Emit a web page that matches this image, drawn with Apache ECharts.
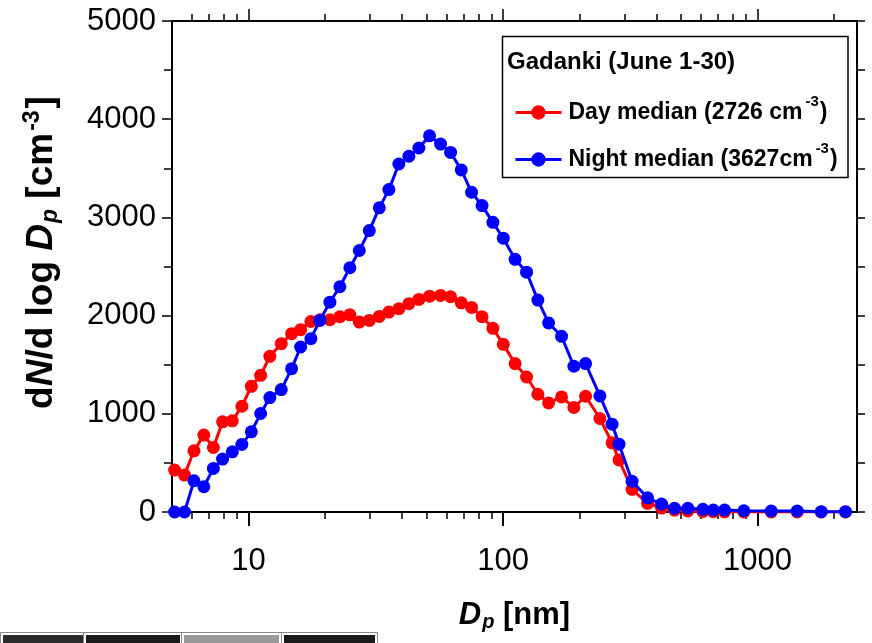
<!DOCTYPE html>
<html>
<head>
<meta charset="utf-8">
<script src="https://cdn.jsdelivr.net/npm/echarts@6/dist/echarts.min.js"></script>
<style>html,body{margin:0;padding:0;background:#fff}#c{width:872px;height:643px}</style>
</head>
<body>
<div id="c"></div>
<script>
// Particle diameter bins (nm)
const diameters = [5.12, 5.60, 6.10, 6.67, 7.27, 7.90, 8.63, 9.41, 10.25, 11.15,
  12.12, 13.44, 14.76, 16.01, 17.57, 19.06, 20.87, 22.84, 25.00, 27.23,
  29.81, 32.63, 35.59, 38.96, 42.65, 46.69, 51.42, 56.81, 62.20, 68.52,
  75.20, 82.7, 91.2, 100.2, 111.5, 123.7, 137.0, 151.0, 169.8, 189.8,
  211.0, 240.2, 268.1, 285.6, 321.3, 369.7, 419.6, 472.0, 532.3, 609.8,
  669.9, 741.9, 883.5, 1132, 1432, 1780, 2217];
// Day median dN/dlogDp (cm^-3)
const dayMedian = [427, 376, 623, 783, 657, 918, 928, 1077, 1280, 1392,
  1585, 1714, 1816, 1857, 1940, 1958, 1958, 1988, 2008, 1934,
  1951, 1992, 2036, 2070, 2121, 2165, 2198, 2205, 2192, 2130,
  2083, 1988, 1870, 1707, 1511, 1375, 1199, 1111, 1172, 1064,
  1179, 952, 704, 530, 231, 88, 40, 20, 10, 5,
  3, 2, 1, 0, 0, 0, 0];
// Night median dN/dlogDp (cm^-3)
const nightMedian = [0, 0, 318, 257, 444, 539, 613, 688, 816, 1003,
  1165, 1247, 1460, 1680, 1765, 1951, 2137, 2294, 2487, 2663,
  2866, 3097, 3283, 3544, 3623, 3707, 3831, 3747, 3662, 3483,
  3256, 3120, 2950, 2788, 2573, 2442, 2158, 1925, 1789, 1484,
  1511, 1182, 894, 691, 313, 144, 81, 38, 38, 27,
  20, 20, 13, 10, 10, 3, 3];
const seriesNames = ['Day median', 'Night median'];
const legendLabels = {'Day median': ['Day median (2726 cm', '-3', ')'],
                      'Night median': ['Night median (3627cm', '-3', ')']};
const legendTitle = 'Gadanki (June 1-30)';
const xMajorTicks = [10, 100, 1000];
const xMinorTicks = [6, 7, 8, 9, 20, 30, 40, 50, 60, 70, 80, 90, 200, 300, 400, 500, 600, 700, 800, 900, 2000];
const xLabels = [10, 100, 1000];

const SANS = '"Liberation Sans", Arial, sans-serif';
const X_MIN = 5, X_MAX = 2460;

const chart = echarts.init(document.getElementById('c'), null, {renderer: 'canvas'});

function pairs(xs, ys) { return xs.map((x, i) => [x, ys[i]]); }

function xAx(opts) {
  return Object.assign({
    type: 'log', logBase: 10, min: X_MIN, max: X_MAX, gridIndex: 0,
    splitLine: {show: false}, minorTick: {show: false}, minorSplitLine: {show: false}
  }, opts);
}

const option = {
  backgroundColor: '#fff',
  animation: false,
  grid: {left: 172, right: 15, top: 21, bottom: 131, containLabel: false},
  xAxis: [
    xAx({position: 'bottom',
      axisLine: {show: true, lineStyle: {color: '#000', width: 2}},
      axisTick: {show: true, inside: false, length: 14, lineStyle: {color: '#000', width: 2}, customValues: xMajorTicks},
      axisLabel: {show: true, customValues: xLabels, margin: 34, color: '#000', fontFamily: SANS, fontSize: 31,
        formatter: v => String(Math.round(v))},
      name: '{i|D}{sub|p}{n| [nm]}', nameLocation: 'middle', nameGap: 86,
      nameTextStyle: {rich: {
        i: {fontFamily: SANS, fontSize: 31, fontWeight: 'bold', fontStyle: 'italic', color: '#000'},
        sub: {fontFamily: SANS, fontSize: 20, fontWeight: 'bold', fontStyle: 'italic', color: '#000', verticalAlign: 'bottom', padding: [14, 0, 0, 1]},
        n: {fontFamily: SANS, fontSize: 31, fontWeight: 'bold', color: '#000'}
      }}
    }),
    xAx({position: 'bottom',
      axisLine: {show: false},
      axisTick: {show: true, inside: false, length: 7, lineStyle: {color: '#000', width: 1.5}, customValues: xMinorTicks},
      axisLabel: {show: false}
    }),
    xAx({position: 'top',
      axisLine: {show: true, lineStyle: {color: '#000', width: 2}},
      axisTick: {show: true, inside: false, length: 12, lineStyle: {color: '#000', width: 1.5}, customValues: xMajorTicks},
      axisLabel: {show: false}
    }),
    xAx({position: 'top',
      axisLine: {show: false},
      axisTick: {show: true, inside: false, length: 7, lineStyle: {color: '#000', width: 1.5}, customValues: xMinorTicks},
      axisLabel: {show: false}
    })
  ],
  yAxis: [
    {type: 'value', min: 0, max: 5000, interval: 1000, position: 'left',
      splitLine: {show: false},
      axisLine: {show: true, lineStyle: {color: '#000', width: 2}},
      axisTick: {show: true, inside: false, length: 10, lineStyle: {color: '#000', width: 1.5}},
      minorTick: {show: true, splitNumber: 2, length: 8, lineStyle: {color: '#000', width: 1.5}},
      axisLabel: {color: '#000', fontFamily: SANS, fontSize: 31, margin: 16, formatter: v => String(v)},
      name: '{b|d}{bi|N}{b|/d log }{bi|D}{sub|p}{b| [cm}{sup|-3}{b|]}',
      nameLocation: 'middle', nameRotate: 90, nameGap: 110,
      nameTextStyle: {padding: [0, 0, 0, 28], rich: {
        b: {fontFamily: SANS, fontSize: 37, fontWeight: 'bold', color: '#000'},
        bi: {fontFamily: SANS, fontSize: 37, fontWeight: 'bold', fontStyle: 'italic', color: '#000'},
        sub: {fontFamily: SANS, fontSize: 23, fontWeight: 'bold', fontStyle: 'italic', color: '#000', verticalAlign: 'bottom', padding: [16, 0, 0, 1]},
        sup: {fontFamily: SANS, fontSize: 23, fontWeight: 'bold', color: '#000', verticalAlign: 'top', padding: [0, 2, 18, 2]}
      }}
    },
    {type: 'value', min: 0, max: 5000, interval: 500, position: 'right',
      splitLine: {show: false},
      axisLine: {show: true, lineStyle: {color: '#000', width: 2}},
      axisTick: {show: true, inside: false, length: 8, lineStyle: {color: '#000', width: 1.5}},
      axisLabel: {show: false}
    }
  ],
  legend: {
    orient: 'vertical', left: 509, top: 89,
    data: seriesNames,
    itemWidth: 46, itemHeight: 18, itemGap: 17,
    lineStyle: {width: 3},
    formatter: name => {
      const p = legendLabels[name];
      return '{t|' + p[0] + '}{s|' + p[1] + '}{t|' + p[2] + '}';
    },
    textStyle: {
      padding: [0, 0, 0, 2],
      rich: {
        t: {fontFamily: SANS, fontSize: 23, fontWeight: 'bold', color: '#000', lineHeight: 32},
        s: {fontFamily: SANS, fontSize: 15, fontWeight: 'bold', color: '#000', verticalAlign: 'top', padding: [0, 1, 22, 3]}
      }
    }
  },
  graphic: [
    {type: 'rect', shape: {x: 502.5, y: 36.5, width: 345.5, height: 141}, style: {fill: 'none', stroke: '#000', lineWidth: 1.5}, z: 100},
    {type: 'text', x: 507, y: 62, style: {text: legendTitle, fill: '#000', font: 'bold 24px ' + SANS, textVerticalAlign: 'middle'}, z: 100},
    {type: 'rect', shape: {x: 0.5, y: 632.5, width: 377, height: 14}, style: {fill: 'none', stroke: '#888', lineWidth: 1}},
    {type: 'rect', shape: {x: 3, y: 635, width: 80, height: 10}, style: {fill: '#2a2a2a'}},
    {type: 'rect', shape: {x: 86, y: 635, width: 94, height: 10}, style: {fill: '#1a1a1a'}},
    {type: 'rect', shape: {x: 184, y: 635, width: 95, height: 10}, style: {fill: '#9a9a9a'}},
    {type: 'rect', shape: {x: 284, y: 635, width: 91, height: 10}, style: {fill: '#1a1a1a'}},
    {type: 'line', shape: {x1: 83.5, y1: 632, x2: 83.5, y2: 643}, style: {stroke: '#888', lineWidth: 1}},
    {type: 'line', shape: {x1: 181.5, y1: 632, x2: 181.5, y2: 643}, style: {stroke: '#888', lineWidth: 1}},
    {type: 'line', shape: {x1: 281.5, y1: 632, x2: 281.5, y2: 643}, style: {stroke: '#888', lineWidth: 1}}
  ],
  series: [
    {name: seriesNames[0], type: 'line', xAxisIndex: 0, yAxisIndex: 0,
      data: pairs(diameters, dayMedian),
      symbol: 'circle', symbolSize: 13, showAllSymbol: true,
      lineStyle: {color: '#ff0000', width: 3}, itemStyle: {color: '#ff0000'}, z: 2},
    {name: seriesNames[1], type: 'line', xAxisIndex: 0, yAxisIndex: 0,
      data: pairs(diameters, nightMedian),
      symbol: 'circle', symbolSize: 13, showAllSymbol: true,
      lineStyle: {color: '#0000ff', width: 3}, itemStyle: {color: '#0000ff'}, z: 3}
  ]
};
chart.setOption(option);
</script>
</body>
</html>
